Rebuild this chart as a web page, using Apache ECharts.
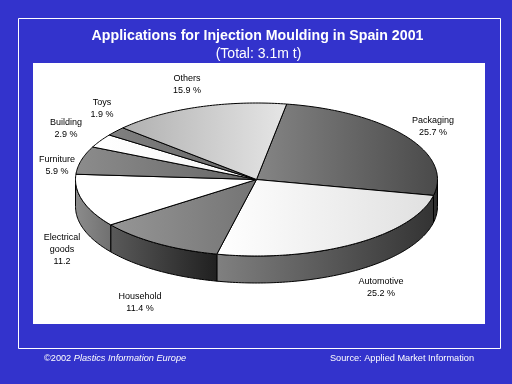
<!DOCTYPE html>
<html><head><meta charset="utf-8">
<style>html,body{margin:0;padding:0;background:#3333cc}#c{width:512px;height:384px}</style>
<script src="https://cdn.jsdelivr.net/npm/echarts@6/dist/echarts.min.js"></script>
</head><body><div id="c"></div>
<script>
const categories = ['Packaging','Automotive','Household','Electrical goods','Furniture','Building','Toys','Others'];
const shares = [25.7,25.2,11.4,11.2,5.9,2.9,1.9,15.9];
const labelTexts = ['Packaging\n25.7 %','Automotive\n25.2 %','Household\n11.4 %','Electrical\ngoods\n11.2','Furniture\n5.9 %','Building\n2.9 %','Toys\n1.9 %','Others\n15.9 %'];
const titleText = 'Applications for Injection Moulding in Spain 2001';
const subtitleText = '(Total: 3.1m t)';
const sourceText = 'Source: Applied Market Information';

const topFills = [['#858585','#4a4a4a'],['#ffffff','#e0e0e0'],['#969696','#747474'],['#ffffff','#ffffff'],['#8c8c8c','#666666'],['#ffffff','#f4f4f4'],['#808080','#666666'],['#b0b0b0','#e6e6e6']];
const sideFills = [['#3a3a3a','#222222'],['#808080','#333333'],['#5a5a5a','#202020'],['#8c8c8c','#707070'],['#888','#888'],['#888','#888'],['#888','#888'],['#888','#888']];
const labelAnchors = [[433,126.5],[381,288],[140,303],[62,250],[57,166],[66,128.5],[102,108.5],[187,85]];
const pie = {cx:256.5, cy:179.5, rx:181, ry:76.5, depth:27, start:9.6};

const total = shares.reduce((a,b)=>a+b,0);
const pt = (deg,dy)=>{const r=deg*Math.PI/180;return [pie.cx+pie.rx*Math.sin(r),pie.cy-pie.ry*Math.cos(r)+(dy||0)];};
const arc = (a,b,dy)=>{const n=Math.max(2,Math.ceil(Math.abs(b-a)));const o=[];for(let i=0;i<=n;i++)o.push(pt(a+(b-a)*i/n,dy));return o;};
const grad = c=>new echarts.graphic.LinearGradient(0,0,1,0,[{offset:0,color:c[0]},{offset:1,color:c[1]}]);

function renderSlice(params,api){
  const i=params.dataIndex;
  let before=0;for(let k=0;k<i;k++)before+=shares[k];
  const a=pie.start+before/total*360, b=a+api.value(0)/total*360;
  const children=[];
  const sa=Math.max(a,90), sb=Math.min(b,270);
  if(sb>sa){
    children.push({type:'polygon',z2:1,shape:{points:arc(sa,sb,0).concat(arc(sb,sa,pie.depth))},
      style:{fill:grad(sideFills[i]),stroke:'#000',lineWidth:1}});
  }
  children.push({type:'polygon',z2:2,shape:{points:[[pie.cx,pie.cy]].concat(arc(a,b,0))},
    style:{fill:grad(topFills[i]),stroke:'#000',lineWidth:1,lineJoin:'bevel'}});
  const l=labelAnchors[i];
  children.push({type:'text',z2:3,x:l[0],y:l[1],style:{text:labelTexts[i],fill:'#000',font:'9px "Liberation Sans"',align:'center',verticalAlign:'middle',lineHeight:12}});
  return {type:'group',children};
}

const chart=echarts.init(document.getElementById('c'),null,{renderer:'canvas'});
chart.setOption({
  animation:false,
  backgroundColor:'#3333cc',
  graphic:[
    {type:'rect',z:0,shape:{x:18.5,y:18.5,width:482,height:330},style:{fill:'none',stroke:'#fff',lineWidth:1}},
    {type:'rect',z:0,shape:{x:33,y:63,width:452,height:261},style:{fill:'#fff'}},
    {type:'text',z:1,x:257.5,y:36.5,style:{text:titleText,fill:'#fff',font:'bold 14.2px "Liberation Sans"',align:'center',verticalAlign:'middle'}},
    {type:'text',z:1,x:258.5,y:54,style:{text:subtitleText,fill:'#fff',font:'14px "Liberation Sans"',align:'center',verticalAlign:'middle'}},
    {type:'text',z:1,x:44,y:358.5,style:{rich:{a:{fill:'#fff',font:'9.2px "Liberation Sans"'},b:{fill:'#fff',font:'italic 9.2px "Liberation Sans"'}},text:'{a|©2002 }{b|Plastics Information Europe}',verticalAlign:'middle'}},
    {type:'text',z:1,x:474,y:358.5,style:{text:sourceText,fill:'#fff',font:'9.2px "Liberation Sans"',align:'right',verticalAlign:'middle'}}
  ],
  series:[{type:'custom',coordinateSystem:'none',renderItem:renderSlice,silent:true,clip:false,
    data:shares.map((v,i)=>({name:categories[i],value:[v]}))}]
});
</script></body></html>
